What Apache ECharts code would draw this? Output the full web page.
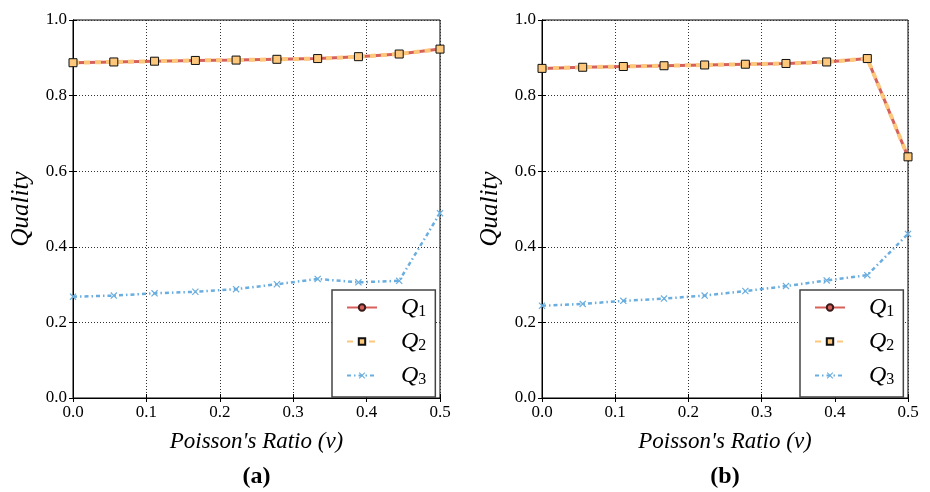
<!DOCTYPE html>
<html>
<head>
<meta charset="utf-8">
<script src="https://cdn.jsdelivr.net/npm/echarts@6/dist/echarts.min.js"></script>
<style>html,body{margin:0;padding:0;background:#fff}#c{width:930px;height:492px}</style>
</head>
<body>
<div id="c"></div>
<script>
// Poisson's ratio samples (x)
const nu = [0, 0.0556, 0.1111, 0.1667, 0.2222, 0.2778, 0.3333, 0.3889, 0.4444, 0.5];
// Panel (a)
const aQ1 = [0.887, 0.889, 0.891, 0.893, 0.894, 0.896, 0.898, 0.903, 0.910, 0.923];
const aQ2 = [0.887, 0.889, 0.891, 0.893, 0.894, 0.896, 0.898, 0.903, 0.910, 0.923];
const aQ3 = [0.268, 0.271, 0.277, 0.281, 0.288, 0.301, 0.315, 0.306, 0.310, 0.489];
// Panel (b)
const bQ1 = [0.872, 0.875, 0.877, 0.879, 0.881, 0.883, 0.885, 0.889, 0.898, 0.638];
const bQ2 = [0.872, 0.875, 0.877, 0.879, 0.881, 0.883, 0.885, 0.889, 0.898, 0.638];
const bQ3 = [0.244, 0.249, 0.257, 0.263, 0.271, 0.283, 0.296, 0.311, 0.325, 0.434];
// Axes
const xTicks = [0, 0.1, 0.2, 0.3, 0.4, 0.5];
const yTicks = [0, 0.2, 0.4, 0.6, 0.8, 1.0];
const seriesNames = ['Q1', 'Q2', 'Q3'];
const panelLabels = ['(a)', '(b)'];
const xName = "Poisson's Ratio (\u03bd)";
const yName = 'Quality';

const FONT = 'Liberation Serif';
const RED = '#d6605a', ORANGE = '#fdc87c', BLUE = '#6aaedf';
const CROSS = 'path://M0,1.2 L1.2,0 L5,3.8 L8.8,0 L10,1.2 L6.2,5 L10,8.8 L8.8,10 L5,6.2 L1.2,10 L0,8.8 L3.8,5 Z';

const chart = echarts.init(document.getElementById('c'), null, {renderer: 'canvas'});

const grids = [
  {left: 73, top: 20, width: 367, height: 378},
  {left: 542, top: 20, width: 366, height: 378}
];

function pairs(xs, ys) { return xs.map((x, i) => [x, ys[i]]); }

const tickLabel = {fontFamily: FONT, fontSize: 17, color: '#000', margin: 6, formatter: v => v.toFixed(1)};
const xAxes = [], yAxes = [], series = [], legends = [], graphics = [];
grids.forEach((g, gi) => {
  const base = {
    type: 'value', min: xTicks[0], max: xTicks[xTicks.length - 1], interval: 0.1, gridIndex: gi
  };
  xAxes.push(Object.assign({}, base, {
    position: 'bottom',
    name: xName, nameLocation: 'middle', nameGap: 32,
    nameTextStyle: {fontFamily: FONT, fontStyle: 'italic', fontSize: 23, color: '#000'},
    axisLine: {show: true, lineStyle: {color: '#000', width: 1}},
    axisTick: {show: true, inside: true, length: 4, lineStyle: {color: '#000'}},
    axisLabel: tickLabel,
    splitLine: {show: true, lineStyle: {color: '#333', type: [1, 2], width: 1}}
  }));
  xAxes.push(Object.assign({}, base, {
    position: 'top',
    axisLine: {show: true, lineStyle: {color: '#000', width: 1}},
    axisTick: {show: true, inside: true, length: 4, lineStyle: {color: '#000'}},
    axisLabel: {show: false}, splitLine: {show: false}
  }));
  const ybase = {type: 'value', min: yTicks[0], max: yTicks[yTicks.length - 1], interval: 0.2, gridIndex: gi};
  yAxes.push(Object.assign({}, ybase, {
    position: 'left',
    name: yName, nameLocation: 'middle', nameGap: 39,
    nameTextStyle: {fontFamily: FONT, fontStyle: 'italic', fontSize: 25, color: '#000'},
    axisLine: {show: true, lineStyle: {color: '#000', width: 1}},
    axisTick: {show: true, inside: true, length: 4, lineStyle: {color: '#000'}},
    axisLabel: tickLabel,
    splitLine: {show: true, lineStyle: {color: '#333', type: [1, 2], width: 1}}
  }));
  yAxes.push(Object.assign({}, ybase, {
    position: 'right',
    axisLine: {show: true, lineStyle: {color: '#000', width: 1}},
    axisTick: {show: true, inside: true, length: 4, lineStyle: {color: '#000'}},
    axisLabel: {show: false}, splitLine: {show: false}
  }));
});

const panels = [[aQ1, aQ2, aQ3], [bQ1, bQ2, bQ3]];
panels.forEach((p, gi) => {
  const xi = gi * 2, yi = gi * 2;
  series.push({
    name: seriesNames[0], type: 'line', xAxisIndex: xi, yAxisIndex: yi, z: 2,
    data: pairs(nu, p[0]), symbol: 'circle', symbolSize: 7, showSymbol: true,
    lineStyle: {color: RED, width: 3},
    itemStyle: {color: RED, borderColor: '#3a1a1a', borderWidth: 1}
  });
  series.push({
    name: seriesNames[1], type: 'line', xAxisIndex: xi, yAxisIndex: yi, z: 3,
    data: pairs(nu, p[1]), symbol: 'rect', symbolSize: 8, showSymbol: true,
    lineStyle: {color: ORANGE, width: 4, type: [6, 5]},
    itemStyle: {color: ORANGE, borderColor: '#111', borderWidth: 1}
  });
  series.push({
    name: seriesNames[2], type: 'line', xAxisIndex: xi, yAxisIndex: yi, z: 2,
    data: pairs(nu, p[2]), symbol: CROSS, symbolSize: 7, showSymbol: true,
    lineStyle: {color: BLUE, width: 2.5, type: [4, 3, 1.5, 3]},
    itemStyle: {color: BLUE, borderWidth: 0}
  });
});

const legendLefts = [332, 800];
legendLefts.forEach((lx, gi) => {
  legends.push({
    orient: 'vertical', left: lx, top: 290,
    data: seriesNames,
    backgroundColor: '#fff', borderColor: '#444', borderWidth: 1.5, borderRadius: 0,
    padding: [5, 9, 9, 14], itemGap: 9, itemWidth: 30, itemHeight: 8,
    z: 10,
    formatter: n => '{q|' + n.charAt(0) + '}{s|' + n.slice(1) + '}',
    textStyle: {
      color: '#000', fontFamily: FONT,
      rich: {
        q: {fontFamily: FONT, fontStyle: 'italic', fontSize: 24, color: '#000', padding: [0, 0, 0, 19], lineHeight: 22},
        s: {fontFamily: FONT, fontSize: 16, color: '#000', padding: [9, 0, 0, 0], lineHeight: 22}
      }
    }
  });
});

panelLabels.forEach((t, gi) => {
  graphics.push({
    type: 'text', x: grids[gi].left + grids[gi].width / 2, y: 465,
    style: {text: t, fontFamily: FONT, fontWeight: 'bold', fontSize: 24, fill: '#000', textAlign: 'center'}
  });
});

chart.setOption({
  animation: false,
  backgroundColor: '#fff',
  textStyle: {fontFamily: FONT},
  grid: grids.map(g => Object.assign({show: true, borderColor: '#000', borderWidth: 1, backgroundColor: 'transparent'}, g)),
  xAxis: xAxes,
  yAxis: yAxes,
  legend: legends,
  series: series,
  graphic: graphics
});
</script>
</body>
</html>
